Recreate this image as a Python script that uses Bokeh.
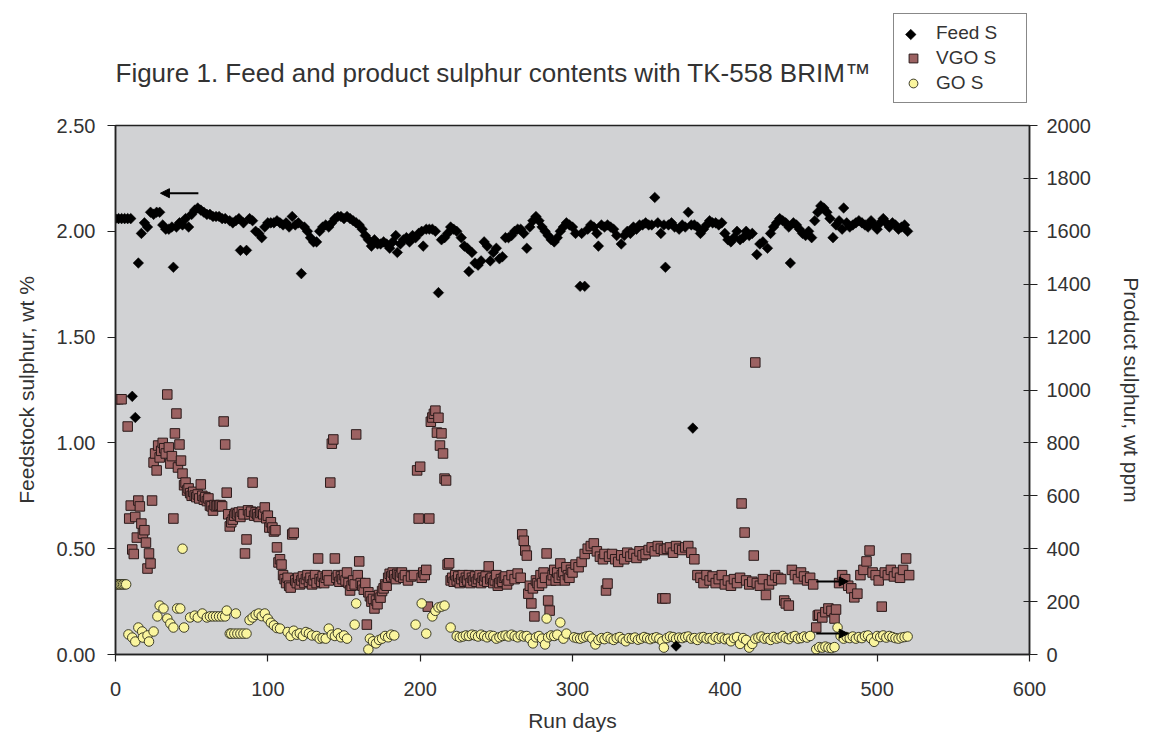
import math
from bokeh.plotting import figure
from bokeh.layouts import column
from bokeh.models import (Range1d, LinearAxis, FixedTicker, PrintfTickFormatter, Legend,
                          LegendItem, Label, Arrow, NormalHead, ColumnDataSource)
from bokeh.embed import file_html
from bokeh.resources import INLINE

# ---------------- data ----------------
# Feed S: (run day, wt %) – left axis
feed_points = [
    (0, 2.06), (2, 2.06), (4, 2.06), (6, 2.06), (8, 2.06), (10, 2.06), (11, 1.22), (13, 1.12),
    (15, 1.85), (17, 1.99), (19, 2.04), (21, 2.02), (23, 2.09), (25, 2.08), (27, 2.09), (29, 2.09),
    (31, 2.03), (33, 2.01), (35, 2.01), (37, 2.02), (38, 1.83), (40, 2.02), (42, 2.04), (44, 2.03),
    (46, 2.06), (48, 2.02), (50, 2.08), (52, 2.10), (54, 2.11), (56, 2.10), (58, 2.09), (60, 2.08),
    (62, 2.08), (64, 2.07), (66, 2.07), (68, 2.07), (70, 2.06), (72, 2.06), (75, 2.05), (77, 2.04),
    (79, 2.05), (81, 2.06), (82, 1.91), (84, 2.04), (86, 1.91), (88, 2.06), (90, 2.05), (92, 2.00),
    (94, 1.99), (96, 1.97), (98, 2.02), (100, 2.04), (102, 2.04), (104, 2.04), (106, 2.05), (108, 2.04),
    (110, 2.03), (112, 2.04), (114, 2.02), (116, 2.07), (118, 2.03), (120, 2.04), (122, 1.80), (124, 2.02),
    (126, 2.00), (128, 1.97), (130, 1.95), (132, 1.95), (134, 2.00), (136, 2.02), (138, 2.03), (140, 2.02),
    (142, 2.04), (144, 2.06), (146, 2.07), (148, 2.07), (150, 2.06), (152, 2.07), (154, 2.06), (156, 2.05),
    (158, 2.04), (160, 2.03), (162, 2.01), (164, 1.98), (166, 1.96), (168, 1.93), (170, 1.96), (172, 1.94),
    (174, 1.94), (176, 1.95), (178, 1.94), (180, 1.92), (182, 1.95), (184, 1.98), (185, 1.90), (187, 1.94),
    (189, 1.96), (191, 1.97), (193, 1.95), (195, 1.98), (197, 1.97), (199, 1.99), (201, 2.00), (202, 1.93),
    (204, 2.01), (206, 2.01), (208, 2.01), (210, 2.00), (212, 1.71), (214, 1.96), (216, 1.97), (218, 1.99),
    (220, 2.02), (222, 2.01), (224, 2.00), (227, 1.97), (229, 1.93), (231, 1.92), (232, 1.81), (234, 1.90),
    (236, 1.85), (238, 1.84), (240, 1.86), (242, 1.95), (244, 1.93), (246, 1.86), (248, 1.90), (250, 1.92),
    (252, 1.87), (254, 1.88), (256, 1.97), (258, 1.97), (260, 1.98), (262, 2.00), (264, 2.01), (266, 2.01),
    (268, 1.99), (270, 1.92), (272, 2.02), (274, 2.05), (276, 2.07), (278, 2.05), (280, 2.02), (282, 2.00),
    (284, 1.98), (286, 1.96), (288, 1.95), (290, 1.97), (292, 2.00), (294, 2.02), (296, 2.04), (298, 2.03),
    (300, 2.02), (302, 1.99), (305, 1.74), (306, 1.99), (308, 1.74), (310, 2.01), (312, 2.03), (314, 2.02),
    (316, 1.99), (317, 1.93), (319, 2.03), (321, 2.02), (323, 2.03), (325, 2.02), (327, 2.01), (329, 1.98),
    (332, 1.94), (334, 1.98), (336, 2.00), (338, 1.99), (340, 2.02), (342, 2.01), (344, 2.03), (346, 2.03),
    (348, 2.04), (350, 2.03), (352, 2.03), (354, 2.16), (356, 2.04), (358, 1.99), (360, 2.03), (361, 1.83),
    (363, 2.03), (365, 2.04), (367, 2.02), (368, 0.04), (370, 2.01), (372, 2.03), (374, 2.02), (376, 2.09),
    (378, 2.03), (379, 1.07), (380, 2.03), (382, 2.02), (384, 1.99), (386, 2.01), (388, 2.03), (390, 2.05),
    (392, 2.04), (394, 2.04), (396, 2.03), (398, 2.04), (400, 1.99), (402, 1.96), (404, 1.95), (406, 1.97),
    (408, 2.00), (410, 1.96), (412, 1.97), (414, 2.00), (416, 1.98), (418, 1.99), (421, 1.89), (423, 1.94),
    (425, 1.95), (428, 1.92), (430, 1.99), (432, 2.02), (434, 2.04), (436, 2.06), (438, 2.05), (440, 2.04),
    (442, 2.02), (443, 1.85), (445, 2.04), (447, 2.03), (449, 2.01), (451, 1.99), (453, 1.98), (455, 2.00),
    (457, 1.97), (459, 2.05), (461, 2.09), (463, 2.12), (465, 2.11), (467, 2.09), (469, 2.06), (471, 1.97),
    (473, 2.03), (475, 2.05), (477, 2.01), (478, 2.11), (480, 2.04), (482, 2.02), (484, 2.03), (486, 2.04),
    (488, 2.05), (490, 2.04), (492, 2.03), (494, 2.02), (496, 2.05), (498, 2.03), (500, 2.01), (502, 2.04),
    (504, 2.06), (506, 2.04), (508, 2.02), (510, 2.04), (512, 2.03), (514, 2.01), (516, 2.02), (518, 2.03),
    (520, 2.00),
]

# VGO S: (run day, wt ppm) – right axis
vgo_points = [
    (0, 965), (2, 965), (4, 965), (8, 862), (9, 514), (10, 563), (11, 397), (12, 380), (13, 520), (14, 442),
    (15, 582), (16, 560), (17, 495), (18, 457), (19, 470), (20, 423), (21, 325), (22, 382), (23, 344), (24, 582),
    (25, 726), (26, 760), (27, 696), (28, 790), (29, 745), (30, 770), (31, 800), (32, 780), (33, 760), (34, 983),
    (35, 783), (36, 722), (37, 750), (38, 514), (39, 836), (40, 911), (41, 707), (42, 794), (43, 733), (44, 684),
    (45, 640), (46, 650), (47, 620), (48, 628), (49, 610), (50, 600), (51, 615), (52, 601), (53, 595), (54, 605),
    (55, 590), (56, 643), (57, 600), (58, 585), (59, 595), (60, 580), (61, 590), (62, 563), (63, 560), (64, 544),
    (65, 565), (66, 560), (67, 563), (68, 563), (69, 565), (70, 560), (71, 881), (72, 794), (73, 612), (74, 530),
    (75, 484), (76, 500), (77, 510), (78, 525), (79, 535), (80, 530), (81, 537), (82, 520), (83, 540), (84, 530),
    (85, 382), (86, 435), (87, 545), (88, 530), (89, 540), (90, 650), (91, 525), (92, 537), (93, 530), (94, 520),
    (95, 535), (96, 540), (97, 530), (98, 556), (99, 515), (100, 525), (101, 480), (102, 500), (103, 480),
    (104, 465), (105, 470), (106, 405), (107, 348), (108, 360), (109, 340), (110, 300), (111, 285), (112, 270),
    (113, 290), (114, 260), (115, 253), (116, 454), (117, 460), (118, 280), (119, 270), (120, 290), (121, 265),
    (122, 280), (123, 295), (124, 270), (125, 285), (126, 300), (127, 275), (128, 290), (129, 265), (130, 280),
    (131, 300), (132, 270), (133, 363), (134, 285), (135, 275), (136, 295), (137, 270), (138, 290), (139, 300),
    (140, 280), (141, 650), (142, 797), (143, 813), (144, 363), (145, 290), (146, 300), (147, 275), (148, 295),
    (149, 285), (150, 300), (151, 280), (152, 310), (153, 270), (154, 242), (155, 260), (156, 280), (157, 265),
    (158, 832), (159, 300), (160, 352), (161, 270), (162, 260), (163, 245), (164, 270), (165, 113), (166, 235),
    (167, 220), (168, 200), (169, 210), (170, 174), (171, 204), (172, 190), (173, 225), (174, 215), (175, 240),
    (176, 250), (177, 265), (178, 260), (179, 290), (180, 305), (181, 295), (182, 310), (183, 300), (184, 285),
    (185, 305), (186, 300), (187, 295), (188, 310), (189, 290), (190, 300), (192, 280), (194, 295), (196, 300),
    (198, 696), (199, 514), (200, 710), (201, 290), (202, 310), (203, 300), (204, 320), (205, 181), (206, 514),
    (207, 880), (208, 896), (209, 910), (210, 922), (211, 839), (212, 895), (213, 790), (214, 836), (215, 760),
    (216, 665), (217, 658), (218, 340), (219, 345), (220, 280), (221, 290), (222, 275), (223, 300), (224, 280),
    (225, 295), (226, 270), (227, 285), (228, 300), (229, 275), (230, 290), (231, 280), (232, 300), (233, 270),
    (234, 290), (235, 280), (236, 295), (237, 275), (238, 285), (239, 300), (240, 270), (241, 290), (242, 280),
    (243, 295), (244, 275), (245, 333), (246, 285), (247, 290), (248, 270), (249, 280), (250, 300), (251, 260),
    (252, 270), (253, 285), (254, 275), (255, 290), (256, 295), (257, 265), (258, 280), (260, 300), (262, 285),
    (264, 306), (266, 290), (267, 454), (268, 430), (269, 393), (270, 374), (271, 230), (272, 260), (273, 193),
    (274, 250), (275, 144), (276, 280), (277, 270), (278, 260), (279, 300), (280, 270), (281, 310), (282, 290),
    (283, 382), (284, 204), (285, 166), (286, 280), (287, 300), (288, 320), (289, 280), (290, 310), (291, 290),
    (292, 344), (293, 300), (294, 310), (295, 280), (296, 330), (297, 300), (298, 290), (299, 320), (300, 310),
    (302, 340), (304, 330), (306, 350), (308, 380), (310, 400), (312, 410), (314, 420), (316, 390), (318, 370),
    (320, 360), (321, 380), (322, 242), (323, 268), (324, 370), (326, 380), (328, 360), (330, 350), (332, 375),
    (334, 360), (336, 385), (338, 370), (340, 380), (342, 365), (344, 390), (346, 375), (348, 380), (350, 395),
    (352, 405), (354, 390), (356, 410), (358, 400), (359, 212), (360, 395), (361, 212), (362, 400), (364, 405),
    (366, 385), (368, 410), (370, 400), (372, 395), (374, 405), (376, 410), (378, 385), (380, 360), (382, 300),
    (384, 290), (386, 270), (388, 300), (390, 280), (392, 295), (394, 270), (396, 285), (398, 300), (400, 265),
    (402, 280), (404, 260), (406, 285), (408, 270), (410, 290), (411, 571), (413, 461), (414, 280), (416, 265),
    (418, 275), (419, 374), (420, 1104), (421, 270), (423, 260), (425, 285), (427, 225), (429, 265), (431, 280),
    (433, 300), (435, 290), (437, 285), (439, 204), (440, 193), (442, 185), (444, 320), (446, 300), (448, 285),
    (450, 310), (452, 295), (454, 280), (456, 290), (458, 265), (460, 102), (461, 147), (462, 150), (464, 140),
    (466, 160), (468, 174), (470, 165), (472, 136), (473, 170), (475, 270), (477, 300), (479, 285), (481, 260),
    (483, 250), (485, 216), (487, 230), (489, 300), (491, 320), (493, 352), (495, 393), (497, 310), (499, 300),
    (501, 280), (503, 181), (505, 310), (507, 300), (509, 320), (511, 295), (513, 310), (515, 290), (517, 320),
    (519, 363), (521, 300),
]

# GO S: (run day, wt ppm) – right axis
go_points = [
    (0, 265), (1, 265), (2, 265), (3, 265), (4, 265), (5, 265), (6, 265), (7, 265),
    (8.5, 76), (11, 64), (13, 49), (15, 102), (17.5, 87), (18, 64), (21, 72), (22, 49), (25, 87),
    (27.5, 144), (29, 185), (31.5, 174), (34, 136), (36, 117), (38, 102), (40.5, 174), (42.5, 174),
    (44, 400), (45, 102), (49, 140), (52, 147), (54, 140), (57, 155), (60, 140), (62, 144), (64, 144),
    (66, 144), (68, 144), (70, 144), (72, 144), (73, 166), (75, 79), (76, 79), (78, 79), (79, 155),
    (80, 79), (82, 79), (84, 79), (86, 79), (88, 130), (90, 140), (92, 150), (94, 155), (96, 145),
    (98, 155), (100, 135), (102, 120), (104, 110), (106, 100), (108, 98), (113, 85), (115, 70), (117, 90),
    (119, 75), (121, 80), (123, 70), (125, 85), (127, 80), (129, 72), (132, 70), (134, 60), (136, 62),
    (138, 60), (140, 98), (142, 75), (144, 70), (146, 80), (148, 65), (150, 72), (152, 60), (157, 113),
    (158, 193), (166, 19), (167, 60), (169, 50), (171, 42), (173, 55), (175, 60), (177, 70), (179, 65),
    (181, 75), (183, 72), (197, 113), (201, 193), (204, 79), (208, 144), (210, 165), (212, 178), (214, 181),
    (216, 185), (220, 102), (224, 70), (226, 65), (228, 68), (230, 72), (232, 70), (234, 75), (236, 72),
    (238, 68), (240, 75), (242, 70), (244, 65), (246, 72), (248, 70), (250, 60), (252, 65), (254, 70),
    (256, 72), (258, 68), (260, 75), (262, 70), (264, 65), (266, 72), (268, 68), (270, 70), (272, 60),
    (274, 42), (276, 65), (278, 70), (280, 60), (282, 38), (283, 136), (284, 65), (286, 72), (288, 70),
    (290, 75), (292, 121), (294, 60), (296, 79), (301, 65), (303, 62), (305, 60), (307, 64), (309, 68),
    (311, 70), (313, 60), (315, 38), (317, 55), (319, 62), (321, 58), (323, 66), (325, 60), (327, 55),
    (329, 62), (331, 66), (333, 58), (335, 50), (337, 62), (339, 60), (341, 64), (343, 56), (345, 60),
    (347, 66), (349, 62), (351, 58), (353, 62), (355, 65), (357, 60), (359, 50), (360, 26), (362, 62),
    (364, 68), (366, 66), (368, 60), (370, 64), (372, 62), (374, 66), (376, 68), (378, 60), (380, 62),
    (382, 55), (384, 64), (386, 66), (388, 60), (390, 62), (392, 56), (394, 66), (396, 60), (398, 64),
    (400, 58), (402, 60), (404, 50), (406, 62), (408, 66), (410, 40), (412, 62), (414, 55), (416, 26),
    (418, 40), (420, 60), (422, 64), (424, 68), (426, 60), (428, 62), (430, 55), (432, 66), (434, 60),
    (436, 64), (438, 70), (440, 62), (442, 58), (444, 66), (446, 70), (448, 60), (450, 62), (452, 68),
    (454, 64), (456, 70), (460, 20), (462, 28), (464, 26), (466, 30), (468, 26), (470, 24), (472, 28),
    (474, 102), (476, 70), (478, 60), (480, 66), (482, 62), (484, 68), (486, 60), (488, 66), (490, 62),
    (492, 70), (494, 72), (496, 60), (498, 48), (500, 70), (502, 66), (504, 72), (506, 64), (508, 70),
    (510, 66), (512, 62), (514, 60), (516, 64), (518, 66), (520, 68),
]

x_ticks = [0, 100, 200, 300, 400, 500, 600]
left_ticks = [0.0, 0.5, 1.0, 1.5, 2.0, 2.5]
right_ticks = [0, 200, 400, 600, 800, 1000, 1200, 1400, 1600, 1800, 2000]

# annotation arrows (start day, end day, value) pointing to the axis each series uses
feed_arrow = (54.4, 29.5, 2.18)
vgo_arrow = (460, 481, 276)
go_arrow = (460, 481, 79)

TITLE = "Figure 1. Feed and product sulphur contents with TK-558 BRIM\u2122"
FONT = "Liberation Sans"
TXT = "#333333"
W = 1145
TOP_H = 110
FRAME_L, FRAME_R = 115, 1031

FEED_STYLE = dict(marker="square", size=7.5, angle=math.pi / 4, fill_color="black",
                  line_color="black", line_width=0.5)
VGO_STYLE = dict(marker="square", size=9.5, fill_color="#9C6262", line_color="#2a1a1a", line_width=1)
GO_STYLE = dict(marker="circle", size=9.5, fill_color="#FAF59E", line_color="#2a2a1a", line_width=0.9)

# ---------------- header (title + legend); its frame is aligned with the chart's frame ----------------
top = figure(width=W, height=TOP_H, x_range=Range1d(FRAME_L, FRAME_R), y_range=Range1d(0, TOP_H),
             output_backend="svg", toolbar_location=None, x_axis_type=None, y_axis_type=None,
             min_border=0, outline_line_color=None, background_fill_color="white",
             border_fill_color="white")
top.xgrid.visible = False
top.ygrid.visible = False
top.add_layout(Label(x=FRAME_L, y=TOP_H - 72, text=TITLE, text_font=FONT, text_font_size="26px",
                     text_color=TXT, text_align="left", text_baseline="middle"))

# legend geometry (header pixels)
LEG_X, LEG_BOTTOM, LEG_PAD, LEG_GLYPH, LEG_SPACING = 893, 7, 8, 22, 3
leg_height = 2 * LEG_PAD + 3 * LEG_GLYPH + 2 * LEG_SPACING

# legend-only renderers: a single point placed outside the header's visible range
offscreen = lambda: ColumnDataSource(dict(x=[-1000], y=[-1000]))
l_feed = top.scatter("x", "y", source=offscreen(), marker="square", size=7.5,
                     fill_alpha=0, line_alpha=0)   # glyph drawn below (legend glyphs are never rotated)
l_vgo = top.scatter("x", "y", source=offscreen(), **VGO_STYLE)
l_go = top.scatter("x", "y", source=offscreen(), **GO_STYLE)
# rotated-square (diamond) swatch for the Feed S row, under the transparent legend
top.scatter(x=[LEG_X + LEG_PAD + LEG_GLYPH / 2],
            y=[LEG_BOTTOM + leg_height - LEG_PAD - LEG_GLYPH / 2], **FEED_STYLE)

legend = Legend(items=[LegendItem(label="Feed S", renderers=[l_feed]),
                       LegendItem(label="VGO S", renderers=[l_vgo]),
                       LegendItem(label="GO S", renderers=[l_go])],
                location=(LEG_X - FRAME_L, LEG_BOTTOM), orientation="vertical",
                background_fill_alpha=0.0,
                border_line_color="#111111", border_line_width=1,
                label_text_font=FONT, label_text_font_size="19px", label_text_color=TXT,
                padding=LEG_PAD, spacing=LEG_SPACING, margin=0, glyph_width=LEG_GLYPH,
                glyph_height=LEG_GLYPH, label_standoff=12, label_width=82, label_height=LEG_GLYPH)
top.add_layout(legend)

# ---------------- main chart ----------------
p = figure(width=W, height=736 - TOP_H, x_range=Range1d(0, 600), y_range=Range1d(0, 2.5),
           output_backend="svg", toolbar_location=None,
           min_border_left=FRAME_L, min_border_right=W - FRAME_R, min_border_top=125 - TOP_H,
           min_border_bottom=82,
           background_fill_color="#D1D2D4", border_fill_color="white",
           outline_line_color="#222222", outline_line_width=1.5)
p.extra_y_ranges = {"ppm": Range1d(0, 2000)}
p.xgrid.visible = False
p.ygrid.visible = False

def style_axis(ax, tin, tout, s1, s2):
    ax.axis_line_color = "#222222"
    ax.axis_line_width = 1.5
    ax.major_tick_line_color = "#222222"
    ax.major_tick_line_width = 1.2
    ax.major_tick_in = tin
    ax.major_tick_out = tout
    ax.minor_tick_line_color = None
    ax.major_label_text_font = FONT
    ax.major_label_text_font_size = "20px"
    ax.major_label_text_color = TXT
    ax.major_label_standoff = s1
    ax.axis_label_text_font = FONT
    ax.axis_label_text_font_size = "21px"
    ax.axis_label_text_font_style = "normal"
    ax.axis_label_text_color = TXT
    ax.axis_label_standoff = s2

xa = p.xaxis[0]
xa.ticker = FixedTicker(ticks=x_ticks)
xa.axis_label = "Run days"
style_axis(xa, 0, 7, 20, 10)

ya = p.yaxis[0]
ya.ticker = FixedTicker(ticks=left_ticks)
ya.formatter = PrintfTickFormatter(format="%.2f")
ya.axis_label = "Feedstock sulphur, wt %"
style_axis(ya, 0, 8, 12, 16)

ra = LinearAxis(y_range_name="ppm", ticker=FixedTicker(ticks=right_ticks),
                axis_label="Product sulphur, wt ppm")
style_axis(ra, 6, 8, 9, 26)
p.add_layout(ra, "right")

vgo_src = ColumnDataSource(dict(x=[d for d, _ in vgo_points], y=[v for _, v in vgo_points]))
go_src = ColumnDataSource(dict(x=[d for d, _ in go_points], y=[v for _, v in go_points]))
feed_src = ColumnDataSource(dict(x=[d for d, _ in feed_points], y=[v for _, v in feed_points]))

p.scatter("x", "y", source=vgo_src, y_range_name="ppm", **VGO_STYLE)
p.scatter("x", "y", source=go_src, y_range_name="ppm", **GO_STYLE)
p.scatter("x", "y", source=feed_src, **FEED_STYLE)

p.add_layout(Arrow(end=NormalHead(size=9, fill_color="black", line_color="black"),
                   x_start=feed_arrow[0], x_end=feed_arrow[1], y_start=feed_arrow[2], y_end=feed_arrow[2],
                   line_color="black", line_width=2))
for (xs, xe, yv) in (vgo_arrow, go_arrow):
    p.add_layout(Arrow(end=NormalHead(size=9, fill_color="black", line_color="black"),
                       x_start=xs, x_end=xe, y_start=yv, y_end=yv, y_range_name="ppm",
                       line_color="black", line_width=2))

layout = column(top, p, spacing=0)
open("out.html", "w").write(file_html(layout, INLINE))
